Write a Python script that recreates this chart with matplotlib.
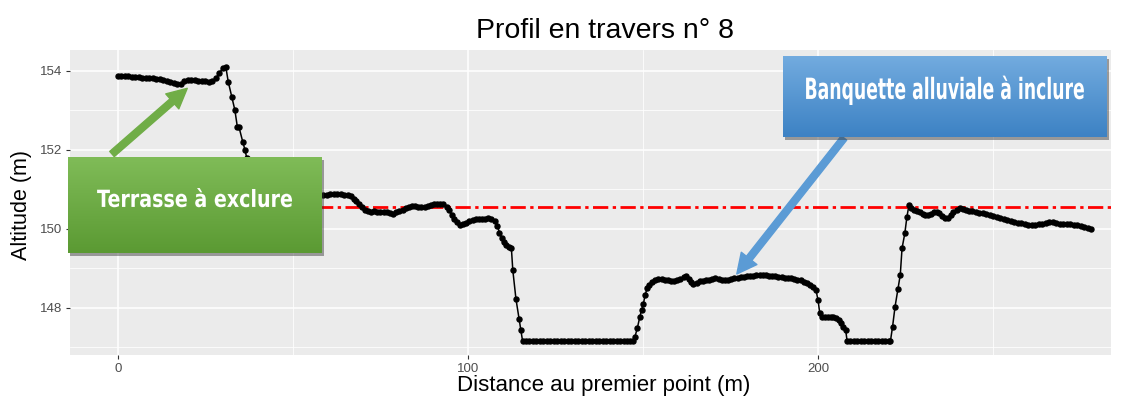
import matplotlib
matplotlib.use("Agg")
import matplotlib.pyplot as plt
import numpy as np
from matplotlib.patches import FancyArrowPatch, Rectangle
from matplotlib.patheffects import AbstractPathEffect
from matplotlib.transforms import Affine2D

# ---------------- data ----------------
dist = [
    0, 1, 2, 3, 4, 5, 6, 7, 8, 9, 10, 11, 12, 13, 14, 15, 16, 17, 18, 19, 20,
    21, 22, 23, 24, 25, 26, 27, 28, 29, 30, 30.8,
    31.5, 32.5, 33.4, 34.1, 34.6, 35.7, 36.3, 36.8, 37.5, 38.3, 39.0,
    40, 42, 44, 46, 48, 50, 52, 54, 56, 57.5,
    58.7, 59.7, 60.7, 61.7, 62.7, 63.7, 64.7, 65.7, 66.5, 67.3, 68.1, 68.9,
    69.7, 70.5, 71.4, 72.3, 73.2, 74.1, 75.0, 75.9, 76.8, 77.7, 78.6, 79.5,
    80.4, 81.3, 82.2, 83.1, 84.0, 84.9, 85.8, 86.7, 87.6, 88.5, 89.4, 90.3,
    91.2, 92.1, 93.0, 93.9, 94.6, 95.3, 96.0, 96.8, 97.7, 98.6, 99.5, 100.4,
    101.3, 102.2, 103.1, 104.0, 104.9, 105.8, 106.7, 107.6, 108.4, 109.0,
    109.6, 110.3, 111.0, 111.7, 112.4, 112.8, 113.7, 114.6, 115.1, 115.6,
    116.5, 117.5, 118.5, 119.5, 120.5, 121.5, 122.5, 123.5, 124.5, 125.5,
    126.5, 127.5, 128.5, 129.5, 130.5, 131.5, 132.5, 133.5, 134.5, 135.5,
    136.5, 137.5, 138.5, 139.5, 140.5, 141.5, 142.5, 143.5, 144.5, 145.5,
    146.4, 147.0,
    147.7, 148.4, 149.1, 149.6, 150.1, 150.6, 151.2, 151.8, 152.6, 153.5,
    154.4, 155.3, 156.2, 157.1, 158.0, 158.9, 159.8, 160.7, 161.6, 162.3,
    163.0, 163.7, 164.4, 165.3, 166.2, 167.1, 168.0, 168.9, 169.8, 170.7,
    171.6, 172.5, 173.4, 174.3, 175.2, 176.1, 177.0, 177.9, 178.8, 179.7,
    180.6, 181.5, 182.4, 183.3, 184.2, 185.1, 186.0, 186.9, 187.8, 188.7,
    189.6, 190.5, 191.4, 192.3, 193.2, 194.1, 195.0, 195.9, 196.8, 197.7,
    198.6, 199.4, 200.0, 200.5, 201.2, 202.0, 202.8, 203.6, 204.4, 205.2,
    205.9, 206.5, 207.2, 207.9, 208.3,
    209.2, 210.2, 211.2, 212.2, 213.2, 214.2, 215.2, 216.2, 217.2, 218.2,
    219.2, 220.2, 220.7,
    221.3, 222.0, 222.8, 223.5, 224.0, 224.8, 225.4, 226.0, 226.7, 227.5,
    228.3, 229.1, 229.9, 230.7, 231.5, 232.3, 233.1, 233.9, 234.7, 235.5,
    236.3, 237.1, 237.9, 238.7, 239.6, 240.5, 241.4, 242.3, 243.2, 244.1,
    245.0, 246.0, 247.0, 248.0, 249.0, 250.0, 251.0, 252.0, 253.0, 254.0,
    255.0, 256.0, 257.0, 258.0, 259.0, 260.0, 261.0, 262.0, 263.0, 264.0,
    265.0, 266.0, 267.0, 268.0, 269.0, 270.0, 271.0, 272.0, 273.0, 274.0,
    275.0, 276.0, 277.0, 278.0,
]
altitude = [
    153.88, 153.87, 153.86, 153.86, 153.85, 153.85, 153.84, 153.83, 153.83,
    153.82, 153.81, 153.80, 153.79, 153.77, 153.75, 153.72, 153.69, 153.67,
    153.68, 153.74, 153.78, 153.77, 153.76, 153.75, 153.75, 153.74, 153.73,
    153.74, 153.82, 153.95, 154.08, 154.11,
    153.73, 153.35, 153.01, 152.59, 152.57, 152.19, 152.00, 151.79, 151.50,
    151.20, 150.95,
    150.90, 150.88, 150.88, 150.87, 150.87, 150.86, 150.86, 150.87, 150.86, 150.86,
    150.86, 150.87, 150.88, 150.89, 150.89, 150.88, 150.87, 150.86, 150.83,
    150.77, 150.70, 150.63, 150.55, 150.48, 150.45, 150.44, 150.45, 150.44,
    150.44, 150.43, 150.42, 150.40, 150.39, 150.43, 150.46, 150.49, 150.53,
    150.56, 150.58, 150.57, 150.56, 150.56, 150.56, 150.57, 150.60, 150.62,
    150.63, 150.64, 150.62, 150.56, 150.47, 150.36, 150.26, 150.17, 150.11,
    150.12, 150.14, 150.19, 150.22, 150.24, 150.25, 150.26, 150.26, 150.27,
    150.25, 150.20, 150.08, 149.90, 149.78, 149.67, 149.60, 149.55, 149.51,
    148.96, 148.23, 147.72, 147.44, 147.16,
    147.16, 147.16, 147.16, 147.16, 147.16, 147.16, 147.16, 147.16, 147.16,
    147.16, 147.16, 147.16, 147.16, 147.16, 147.16, 147.16, 147.16, 147.16,
    147.16, 147.16, 147.16, 147.16, 147.16, 147.16, 147.16, 147.16, 147.16,
    147.16, 147.16, 147.16, 147.16, 147.17,
    147.27, 147.50, 147.78, 147.95, 148.10, 148.33, 148.50, 148.58, 148.65,
    148.72, 148.74, 148.73, 148.71, 148.70, 148.69, 148.69, 148.70, 148.74,
    148.79, 148.80, 148.73, 148.65, 148.61, 148.64, 148.68, 148.69, 148.70,
    148.72, 148.74, 148.75, 148.74, 148.72, 148.71, 148.71, 148.73, 148.75,
    148.76, 148.78, 148.79, 148.80, 148.81, 148.82, 148.83, 148.84, 148.84,
    148.83, 148.82, 148.81, 148.80, 148.79, 148.78, 148.77, 148.76, 148.75,
    148.74, 148.72, 148.70, 148.67, 148.63, 148.58, 148.52, 148.46, 148.20,
    147.87, 147.76, 147.77, 147.78, 147.78, 147.76, 147.75, 147.70, 147.61,
    147.53, 147.44, 147.17,
    147.17, 147.17, 147.17, 147.17, 147.17, 147.17, 147.17, 147.17, 147.17,
    147.17, 147.17, 147.17, 147.17,
    147.53, 148.03, 148.47, 148.84, 149.51, 149.89, 150.31, 150.61, 150.52,
    150.48, 150.45, 150.42, 150.39, 150.36, 150.35, 150.39, 150.43, 150.44,
    150.40, 150.34, 150.29, 150.28, 150.36, 150.44, 150.49, 150.52, 150.51,
    150.48, 150.46, 150.45, 150.43, 150.41, 150.40, 150.38, 150.35, 150.33,
    150.30, 150.27, 150.25, 150.23, 150.20, 150.18, 150.16, 150.14, 150.12,
    150.11, 150.10, 150.11, 150.12, 150.13, 150.15, 150.17, 150.18, 150.15,
    150.13, 150.13, 150.13, 150.12, 150.11, 150.09, 150.07, 150.05, 150.03,
    150.01,
]
reference_level = 150.55
x_ticks = [0, 100, 200]
y_ticks = [148, 150, 152, 154]
x_minor = [50, 150, 250]
y_minor = [147, 149, 151, 153]
title = "Profil en travers n° 8"
x_label = "Distance au premier point (m)"
y_label = "Altitude (m)"
label_terrace = "Terrasse à exclure"
label_bank = "Banquette alluviale à inclure"
terrace_target = (19.8, 153.56)
bank_target = (176.8, 148.86)

# ---------------- figure ----------------
W, H = 1126, 401
plt.rcParams['font.family'] = ['Liberation Sans', 'DejaVu Sans']
fig = plt.figure(figsize=(W / 100, H / 100), dpi=100)
fig.patch.set_facecolor('white')

def fx(px):
    return px / W

def fy(py):
    return 1 - py / H

ax = fig.add_axes([fx(70), fy(355), fx(1111) - fx(70), fy(50) - fy(355)])
ax.set_facecolor('#EBEBEB')
ax.set_xlim(-13.7, 283.7)
ax.set_ylim(146.81, 154.53)
for s in ax.spines.values():
    s.set_visible(False)
ax.set_xticks(x_ticks)
ax.set_yticks(y_ticks)
ax.set_xticks(x_minor, minor=True)
ax.set_yticks(y_minor, minor=True)
ax.tick_params(which='major', length=3, width=0.8, color='#333333',
               labelsize=9.5, labelcolor='#4D4D4D', pad=2.5)
ax.tick_params(which='minor', length=0)
ax.grid(which='major', color='white', lw=1.1)
ax.grid(which='minor', color='white', lw=0.55)
ax.set_axisbelow(True)

ax.axhline(reference_level, color='#FF0000', lw=2,
           linestyle=(0, (5.5, 1.6, 1.2, 1.6)), zorder=2)
ax.plot(dist, altitude, color='black', lw=1.1, marker='o', ms=3.6,
        mec='black', mfc='black', zorder=3)

fig.text(fx(605), fy(31), title, ha='center', va='center', fontsize=20.5,
         color='black')
fig.text(fx(604), fy(386), x_label, ha='center', va='center', fontsize=16,
         color='black')
fig.text(fx(22), fy(205), y_label, ha='center', va='center', fontsize=15.5,
         rotation=90, color='black')


class Scale2(AbstractPathEffect):
    """Draw text glyphs scaled about an anchor point (condensed look)."""
    def __init__(self, sx, sy, cx, cy):
        super().__init__()
        self.sx, self.sy, self.cx, self.cy = sx, sy, cx, cy

    def draw_path(self, renderer, gc, tpath, affine, rgbFace=None):
        a = affine + (Affine2D().translate(-self.cx, -self.cy)
                      .scale(self.sx, self.sy).translate(self.cx, self.cy))
        renderer.draw_path(gc, tpath, a, rgbFace)


renderer = fig.canvas.get_renderer()

# ---------------- annotation boxes ----------------
def grad_box(x0, y0, x1, y1, top, bottom, text, size, look_size, base_frac, target_w):
    fig.add_artist(Rectangle((fx(x0 + 2), fy(y1 + 3)), fx(x1 - x0), fy(y0) - fy(y1),
                             transform=fig.transFigure, facecolor='#333333',
                             alpha=0.45, edgecolor='none', zorder=9))
    bax = fig.add_axes([fx(x0), fy(y1), fx(x1 - x0), fy(y0) - fy(y1)], zorder=10)
    c0 = np.array(matplotlib.colors.to_rgb(top))
    c1 = np.array(matplotlib.colors.to_rgb(bottom))
    t = np.linspace(0, 1, 64)[:, None]
    img = (c0[None, :] * (1 - t) + c1[None, :] * t)[:, None, :]
    bax.imshow(img, aspect='auto', extent=[0, 1, 0, 1], interpolation='bilinear')
    bax.set_xlim(0, 1)
    bax.set_ylim(0, 1)
    bax.axis('off')
    txt = bax.text(0.5, base_frac, text, ha='center', va='baseline', color='white',
                   fontsize=size, fontweight='bold', family='DejaVu Sans')
    w = txt.get_window_extent(renderer=renderer).width
    cx, cy = bax.transAxes.transform((0.5, base_frac))
    txt.set_path_effects([Scale2(target_w / w, look_size / size, cx, cy)])

grad_box(68, 157, 322, 253, '#80BC58', '#5B9A33', label_terrace, 17, 17, 0.48, 196)
grad_box(783, 56, 1107, 137, '#72ABDF', '#3D82C4', label_bank, 14, 21, 0.47, 281)

# arrows (pointing at data locations)
green_tail = (fx(112), fy(154))
blue_tail = (fx(844), fy(138))
style = 'simple,head_width=2.6,head_length=2.6,tail_width=0.9'
arr1 = FancyArrowPatch(posA=fig.transFigure.transform(green_tail),
                       posB=ax.transData.transform(terrace_target),
                       transform=None, arrowstyle=style,
                       mutation_scale=5.5, color='#70AD47', zorder=8,
                       shrinkA=0, shrinkB=0)
fig.add_artist(arr1)
arr2 = FancyArrowPatch(posA=fig.transFigure.transform(blue_tail),
                       posB=ax.transData.transform(bank_target),
                       transform=None, arrowstyle=style,
                       mutation_scale=5.5, color='#5B9BD5', zorder=8,
                       shrinkA=0, shrinkB=0)
fig.add_artist(arr2)

fig.savefig('out.png', dpi=100)
